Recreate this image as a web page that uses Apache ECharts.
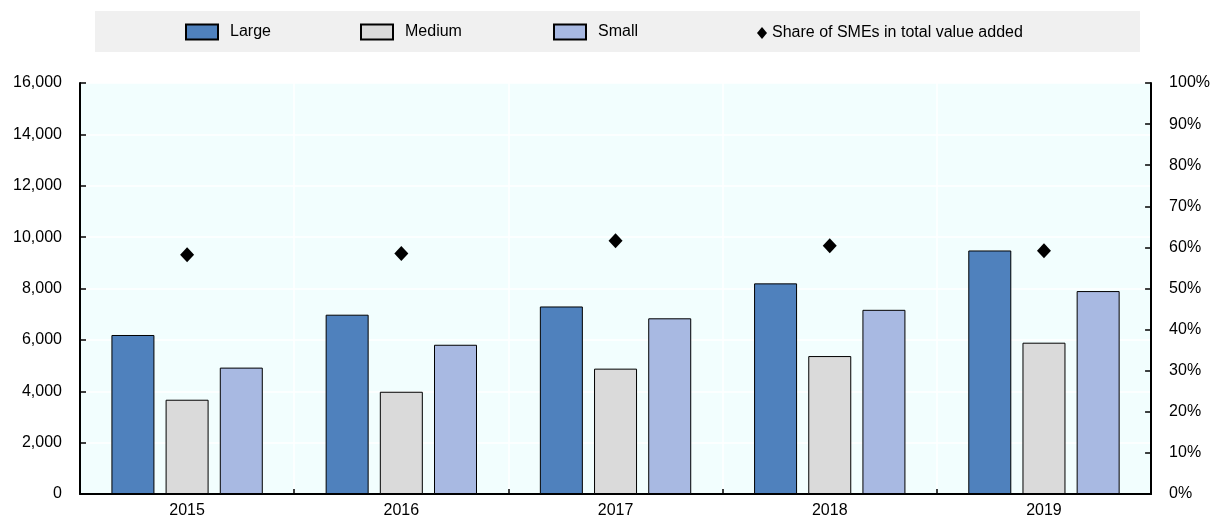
<!DOCTYPE html>
<html><head><meta charset="utf-8">
<script src="https://cdn.jsdelivr.net/npm/echarts@6/dist/echarts.min.js"></script>
<style>html,body{margin:0;padding:0;background:#fff}#c{width:1213px;height:519px}</style>
</head><body><div id="c"></div>
<script>
const years = ['2015','2016','2017','2018','2019'];
const large = [6190, 6980, 7300, 8200, 9480];
const medium = [3670, 3980, 4880, 5370, 5890];
const small = [4920, 5810, 6840, 7170, 7900];
const smeShare = [0.582, 0.585, 0.616, 0.604, 0.592];
const leftTicks = {min: 0, max: 16000, interval: 2000};
const rightTicks = {min: 0, max: 1, interval: 0.1};

const FONT = 'Liberation Sans, Arial, sans-serif';
const chart = echarts.init(document.getElementById('c'));
const txt = {fontFamily: FONT, fontSize: 16, color: '#000'};
function leg(name, left, w, h, textLeftPad, icon) {
  return {data: [{name: name, icon: icon}], left: left, top: 31 - h/2, itemWidth: w, itemHeight: h, padding: 0,
    selectedMode: false, textStyle: Object.assign({}, txt, {padding: [0,0,0,textLeftPad]})};
}
chart.setOption({
  animation: false,
  graphic: [{type: 'rect', shape: {x: 95, y: 11, width: 1045, height: 41}, style: {fill: '#f0f0f0'}, z: -10}],
  legend: [leg('Large', 185, 32, 15, 7, 'rect'), leg('Medium', 360, 32, 15, 7, 'rect'), leg('Small', 553, 32, 15, 7, 'rect'),
           leg('Share of SMEs in total value added', 757, 10, 12, 0, 'diamond')],
  grid: {left: 80, right: 61, top: 83, bottom: 25, show: true, backgroundColor: '#f2fefe', borderWidth: 0},
  xAxis: {type: 'category', data: years,
    axisLine: {lineStyle: {color: '#000', width: 2}},
    axisTick: {show: true, inside: true, length: 5, lineStyle: {color: '#000', width: 1.5}},
    axisLabel: Object.assign({}, txt, {margin: 9}),
    splitLine: {show: true, lineStyle: {color: '#ffffff', width: 1.5}}},
  yAxis: [
    Object.assign({type: 'value', position: 'left'}, leftTicks, {
      axisLine: {show: true, lineStyle: {color: '#000', width: 2}},
      axisTick: {show: true, inside: true, length: 6, lineStyle: {color: '#000', width: 1.5}},
      axisLabel: Object.assign({}, txt, {margin: 18, formatter: v => v.toLocaleString('en-US')}),
      splitLine: {show: true, lineStyle: {color: '#ffffff', width: 1.5}}}),
    Object.assign({type: 'value', position: 'right'}, rightTicks, {
      axisLine: {show: true, lineStyle: {color: '#000', width: 2}},
      axisTick: {show: true, inside: true, length: 6, lineStyle: {color: '#000', width: 1.5}},
      axisLabel: Object.assign({}, txt, {margin: 18, formatter: v => Math.round(v*100) + '%'}),
      splitLine: {show: false}})
  ],
  series: [
    {name: 'Large', type: 'bar', data: large, barWidth: 43, barGap: '26%',
     itemStyle: {color: '#4f81bd', borderColor: '#000', borderWidth: 1}},
    {name: 'Medium', type: 'bar', data: medium, barWidth: 43, barGap: '26%',
     itemStyle: {color: '#dadada', borderColor: '#000', borderWidth: 1}},
    {name: 'Small', type: 'bar', data: small, barWidth: 43, barGap: '26%',
     itemStyle: {color: '#a8b9e2', borderColor: '#000', borderWidth: 1}},
    {name: 'Share of SMEs in total value added', type: 'scatter', yAxisIndex: 1, data: smeShare,
     symbol: 'diamond', symbolSize: [14, 15], itemStyle: {color: '#000', opacity: 1}, z: 5}
  ]
});
</script></body></html>
